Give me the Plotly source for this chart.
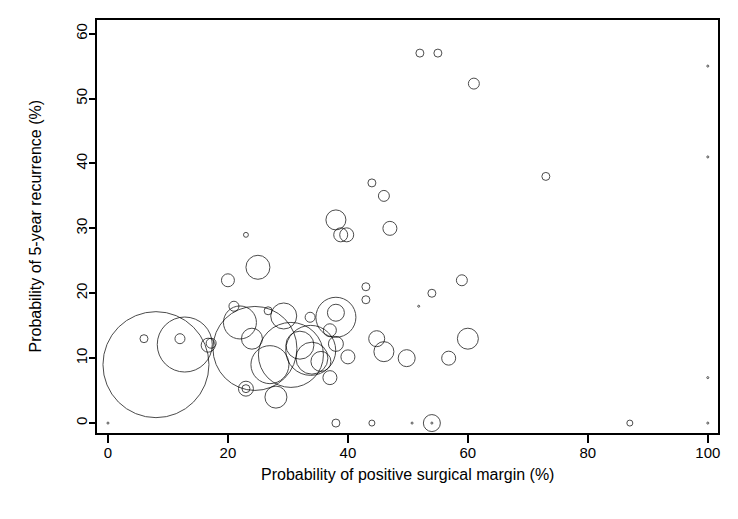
import plotly.graph_objects as go

# Study-level estimates: positive surgical margin (%) vs 5-year recurrence (%)
margin = [8, 12.8, 6, 12, 16.7, 17.2, 20, 23, 25, 21, 22, 26.7, 29.3, 24, 24.5, 27, 28, 23, 23,
          30.5, 33.8, 34, 32, 33.7, 38, 38, 37, 38, 40, 37, 35.5, 44.8, 46, 49.8, 56.8, 60, 59,
          54, 43, 43, 51.8, 38, 38.8, 39.8, 47, 46, 44, 52, 55, 61, 73, 100, 100, 100, 100,
          0, 38, 44, 50.7, 54, 54, 87]
recurrence = [9, 12.1, 13, 13, 12, 12.3, 22, 29, 24, 18, 15.5, 17.3, 16.5, 13, 11.5, 9, 4, 5.3, 5.3,
              10.5, 11.2, 10, 12, 16.3, 16.3, 17, 14.3, 12.2, 10.2, 7, 9.5, 13, 11, 10, 10, 13, 22,
              20, 21, 19, 18, 31.3, 29, 29, 30, 35, 37, 57, 57, 52.3, 38, 55, 41, 7, 0,
              0, 0, 0, 0, 0, 0, 0]
weights = [2809, 756, 16, 25, 49, 25, 42, 6, 144, 25, 272, 16, 169, 110, 1764, 361, 121, 56, 16,
           1056, 625, 256, 196, 25, 400, 72, 42, 56, 49, 49, 100, 64, 100, 72, 49, 110, 30,
           16, 16, 16, 1, 100, 49, 49, 49, 30, 16, 16, 16, 30, 16, 1, 1, 1, 1,
           1, 16, 9, 1, 72, 1, 9]

x_ticks = [0, 20, 40, 60, 80, 100]
y_ticks = [0, 10, 20, 30, 40, 50, 60]
x_title = "Probability of positive surgical margin (%)"
y_title = "Probability of 5-year recurrence (%)"

max_diam = 106
fig = go.Figure(go.Scatter(
    x=margin, y=recurrence, mode="markers",
    marker=dict(size=weights, sizemode="area",
                sizeref=2 * max(weights) / max_diam ** 2,
                color="rgba(0,0,0,0)",
                line=dict(color="black", width=1)),
    hoverinfo="x+y",
))

font = "Liberation Sans, Arial, sans-serif"
fig.update_layout(
    width=722, height=503,
    margin=dict(l=89, r=12, t=10, b=78),
    paper_bgcolor="white", plot_bgcolor="white",
    showlegend=False,
    font=dict(family=font, color="black", size=15),
    xaxis=dict(range=[-1.83, 101.7], tickvals=x_ticks, ticks="outside", ticklen=8,
               tickwidth=1.5, tickcolor="black", showgrid=False, zeroline=False,
               showline=True, linecolor="black", linewidth=2, mirror=True,
               tickfont=dict(size=15), ticklabelstandoff=-3),
    yaxis=dict(range=[-1.53, 62.1], tickvals=y_ticks, ticks="outside", ticklen=6,
               tickwidth=1.5, tickcolor="black", showgrid=False, zeroline=False,
               showline=True, linecolor="black", linewidth=2, mirror=True,
               tickangle=-90, tickfont=dict(size=15), ticklabelstandoff=-4),
    annotations=[
        dict(text=x_title, xref="paper", yref="paper", x=0.5, y=0,
             xanchor="center", yanchor="middle", yshift=-41, showarrow=False,
             font=dict(size=16)),
        dict(text=y_title, xref="paper", yref="paper", x=0, y=0.5,
             xanchor="center", yanchor="middle", xshift=-62, textangle=-90,
             showarrow=False, font=dict(size=16)),
    ],
)

fig.write_html("out.html")
